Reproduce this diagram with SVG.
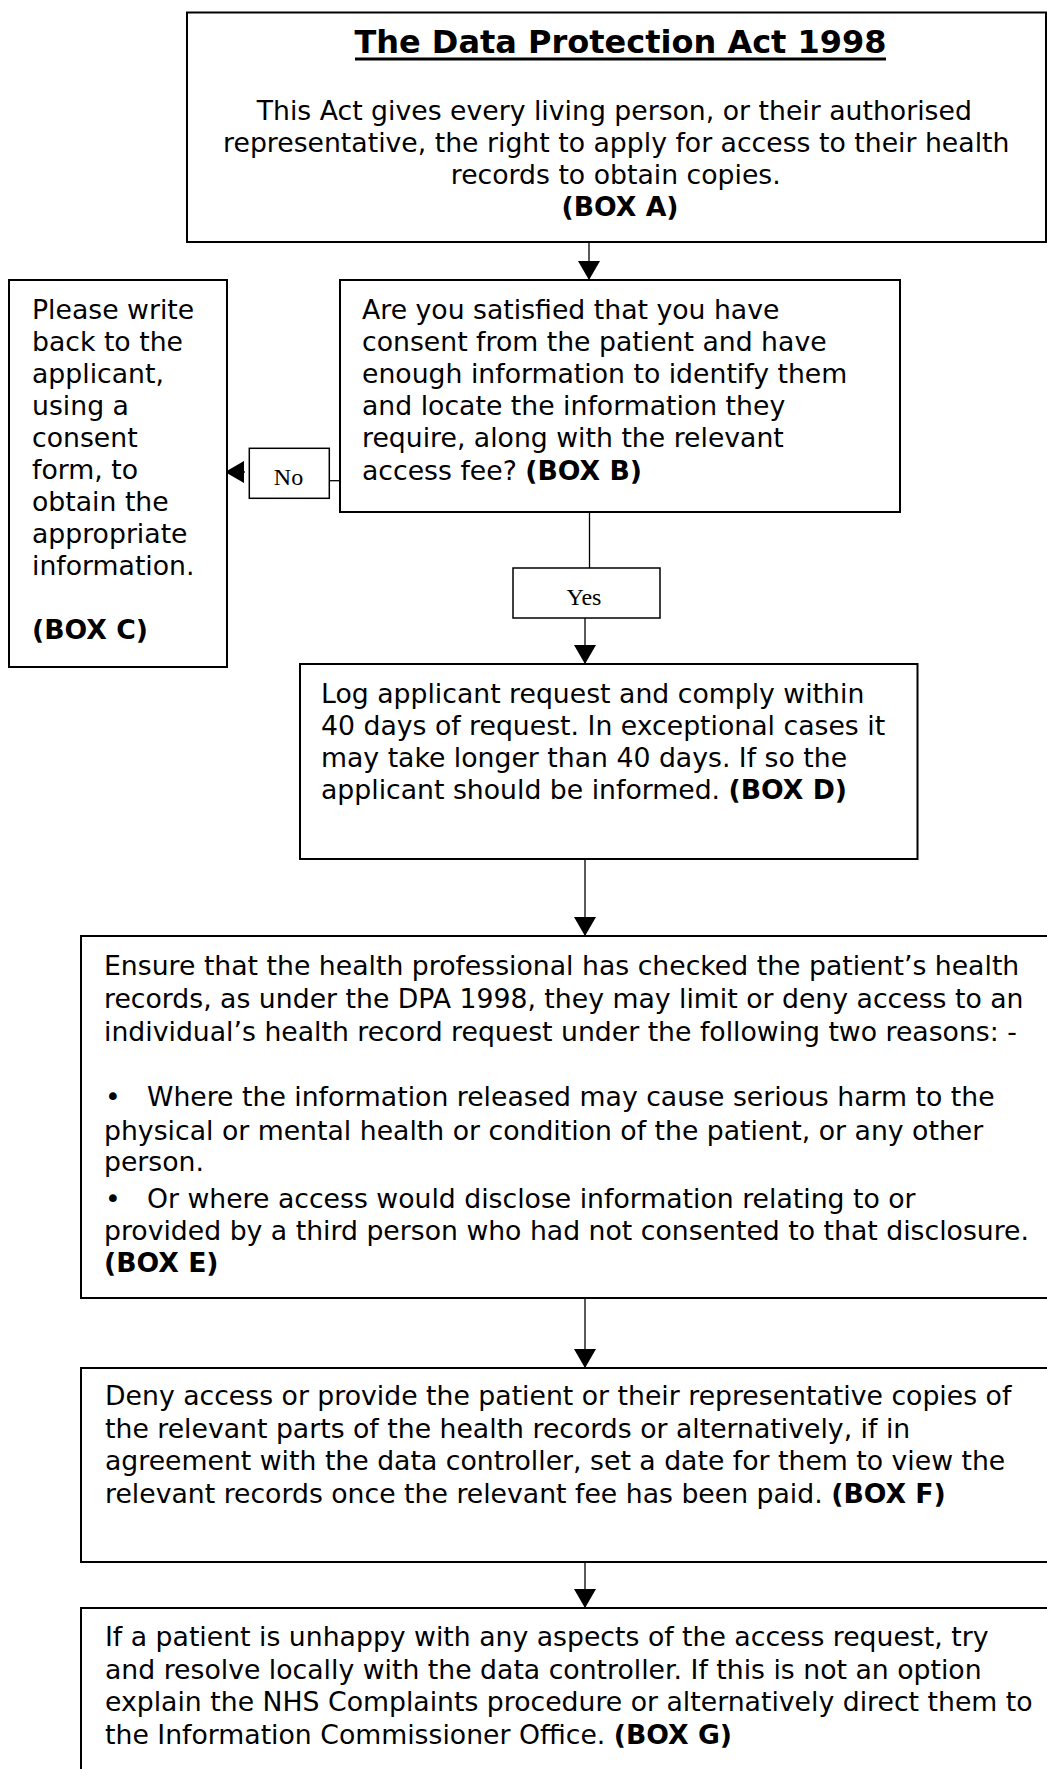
<svg xmlns="http://www.w3.org/2000/svg" width="1047" height="1769" viewBox="0 0 1047 1769">
  <style>
    .box { fill: #ffffff; stroke: #000000; stroke-width: 2; }
    .lbl { fill: #ffffff; stroke: #000000; stroke-width: 1.5; }
    .t { font-family: "DejaVu Sans", Verdana, sans-serif; font-size: 26.7px; fill: #000000; }
    .b { font-weight: bold; }
    .title { font-family: "DejaVu Sans", Verdana, sans-serif; font-size: 32px; font-weight: bold; fill: #000000; }
    .ser { font-family: "Liberation Serif", "Times New Roman", serif; font-size: 24px; fill: #000000; }
    .conn { stroke: #000000; stroke-width: 1.3; fill: none; }
    .arr { marker-end: url(#ah); }
  </style>
  <defs>
    <marker id="ah" markerUnits="userSpaceOnUse" markerWidth="19" markerHeight="22" refX="19" refY="11" orient="auto">
      <path d="M0,0 L19,11 L0,22 z" fill="#000000"/>
    </marker>
  </defs>
  <rect width="1047" height="1769" fill="#ffffff"/>

  <g id="connectors">
    <line class="conn arr" x1="589" y1="242" x2="589" y2="280"/>
    <line class="conn" x1="589.5" y1="512" x2="589.5" y2="568"/>
    <line class="conn arr" x1="585" y1="618" x2="585" y2="664"/>
    <line class="conn arr" x1="585" y1="859" x2="585" y2="936"/>
    <line class="conn arr" x1="585" y1="1298" x2="585" y2="1368"/>
    <line class="conn arr" x1="585" y1="1562" x2="585" y2="1608"/>
    <line class="conn" x1="321" y1="480.7" x2="346" y2="480.7"/>
    <line class="conn arr" x1="245" y1="472" x2="225" y2="472"/>
  </g>

  <g id="boxA">
    <rect class="box" x="187" y="12.5" width="859" height="229.5"/>
    <text class="title" x="620.5" y="53" text-anchor="middle">The Data Protection Act 1998</text>
    <line x1="355" y1="59" x2="886" y2="59" stroke="#000000" stroke-width="3"/>
    <text class="t" text-anchor="middle">
      <tspan x="618.5" y="120">This Act gives every living person, or their authorised</tspan>
      <tspan x="620.5" y="152">representative, the right to apply for access to their health</tspan>
      <tspan x="620" y="184">records to obtain copies.</tspan>
      <tspan x="620" y="216" class="b">(BOX A)</tspan>
    </text>
  </g>

  <g id="boxB">
    <rect class="box" x="340" y="280" width="560" height="232"/>
    <text class="t">
      <tspan x="362" y="319">Are you satisfied that you have</tspan>
      <tspan x="362" y="351">consent from the patient and have</tspan>
      <tspan x="362" y="383">enough information to identify them</tspan>
      <tspan x="362" y="415">and locate the information they</tspan>
      <tspan x="362" y="447">require, along with the relevant</tspan>
      <tspan x="362" y="480">access fee? <tspan class="b">(BOX B)</tspan></tspan>
    </text>
  </g>

  <g id="boxC">
    <rect class="box" x="9" y="280" width="218" height="387"/>
    <text class="t">
      <tspan x="32" y="319">Please write</tspan>
      <tspan x="32" y="351">back to the</tspan>
      <tspan x="32" y="383">applicant,</tspan>
      <tspan x="32" y="415">using a</tspan>
      <tspan x="32" y="447">consent</tspan>
      <tspan x="32" y="479">form, to</tspan>
      <tspan x="32" y="511">obtain the</tspan>
      <tspan x="32" y="543">appropriate</tspan>
      <tspan x="32" y="575">information.</tspan>
      <tspan x="32" y="639" class="b">(BOX C)</tspan>
    </text>
  </g>

  <g id="labelNo">
    <rect class="lbl" x="249.3" y="448.3" width="80" height="50"/>
    <text class="ser" x="288.5" y="485" text-anchor="middle">No</text>
  </g>

  <g id="labelYes">
    <rect class="lbl" x="513" y="568" width="147" height="50"/>
    <text class="ser" x="584" y="605" text-anchor="middle">Yes</text>
  </g>

  <g id="boxD">
    <rect class="box" x="300" y="664" width="617.5" height="195"/>
    <text class="t">
      <tspan x="321" y="703">Log applicant request and comply within</tspan>
      <tspan x="321" y="735">40 days of request. In exceptional cases it</tspan>
      <tspan x="321" y="767">may take longer than 40 days. If so the</tspan>
      <tspan x="321" y="799">applicant should be informed. <tspan class="b">(BOX D)</tspan></tspan>
    </text>
  </g>

  <g id="boxE">
    <rect class="box" x="81" y="936" width="975" height="362"/>
    <text class="t">
      <tspan x="104" y="975">Ensure that the health professional has checked the patient’s health</tspan>
      <tspan x="104" y="1008">records, as under the DPA 1998, they may limit or deny access to an</tspan>
      <tspan x="104" y="1041">individual’s health record request under the following two reasons: -</tspan>
      <tspan x="105" y="1106">•</tspan>
      <tspan x="147" y="1106">Where the information released may cause serious harm to the</tspan>
      <tspan x="104" y="1139.5">physical or mental health or condition of the patient, or any other</tspan>
      <tspan x="104" y="1171">person.</tspan>
      <tspan x="105" y="1208">•</tspan>
      <tspan x="147" y="1208">Or where access would disclose information relating to or</tspan>
      <tspan x="104" y="1240">provided by a third person who had not consented to that disclosure.</tspan>
      <tspan x="104" y="1272" class="b">(BOX E)</tspan>
    </text>
  </g>

  <g id="boxF">
    <rect class="box" x="81" y="1368" width="975" height="194"/>
    <text class="t">
      <tspan x="105" y="1405">Deny access or provide the patient or their representative copies of</tspan>
      <tspan x="105" y="1437.5">the relevant parts of the health records or alternatively, if in</tspan>
      <tspan x="105" y="1470">agreement with the data controller, set a date for them to view the</tspan>
      <tspan x="105" y="1502.5">relevant records once the relevant fee has been paid. <tspan class="b">(BOX F)</tspan></tspan>
    </text>
  </g>

  <g id="boxG">
    <rect class="box" x="81" y="1608" width="975" height="200"/>
    <text class="t">
      <tspan x="105" y="1646">If a patient is unhappy with any aspects of the access request, try</tspan>
      <tspan x="105" y="1678.5">and resolve locally with the data controller. If this is not an option</tspan>
      <tspan x="105" y="1711">explain the NHS Complaints procedure or alternatively direct them to</tspan>
      <tspan x="105" y="1743.5">the Information Commissioner Office. <tspan class="b">(BOX G)</tspan></tspan>
    </text>
  </g>
</svg>
